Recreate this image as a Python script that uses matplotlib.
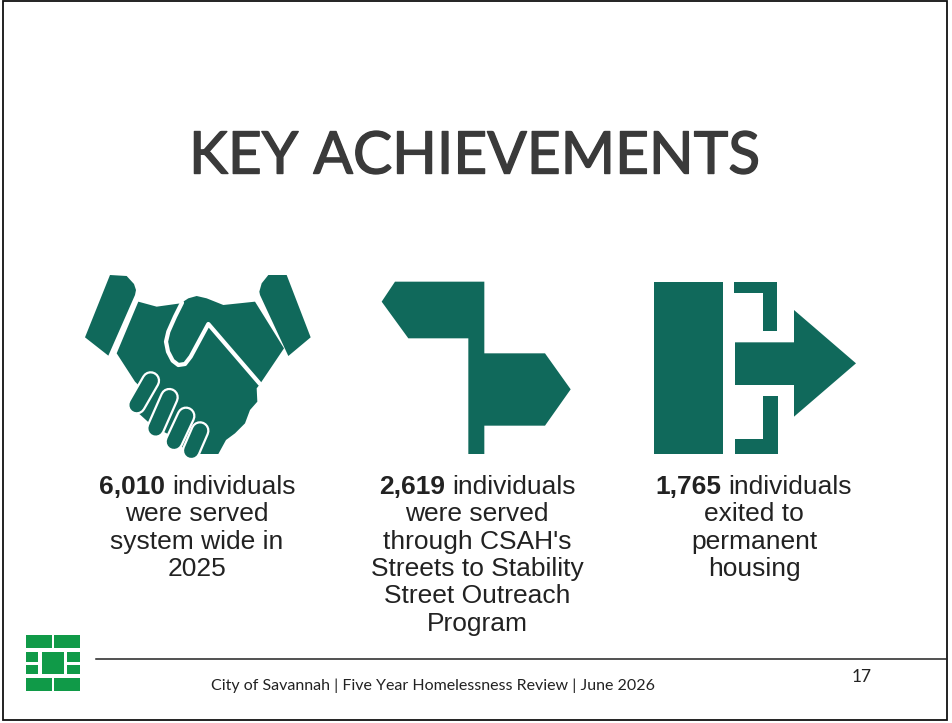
"""Key achievements slide, drawn in pixel coordinates on one full-figure axes."""

import matplotlib
matplotlib.use("Agg")
import matplotlib.pyplot as plt
import matplotlib.patheffects as pe
from matplotlib.patches import Polygon, Rectangle

TEAL = "#10695b"
GREEN = "#109a48"
TEXT = "#222222"

TITLE = "KEY ACHIEVEMENTS"
FOOTER = "City of Savannah | Five Year Homelessness Review | June 2026"
PAGE = "17"

counts = ["6,010", "2,619", "1,765"]
first_lines = [" individuals", " individuals", " individuals"]
other_lines = [
    ["were served", "system wide in", "2025"],
    ["were served", "through CSAH's", "Streets to Stability", "Street Outreach", "Program"],
    ["exited to", "permanent", "housing"],
]
column_x = [197, 477, 754]

fig = plt.figure(figsize=(9.52, 7.23), dpi=100)
ax = fig.add_axes([0, 0, 1, 1])
ax.set_xlim(0, 952)
ax.set_ylim(723, 0)
ax.axis("off")


def hand(points):
    """Zoom crop coordinates of the handshake to page pixels."""
    return [(60 + x / 3, 260 + y / 3) for x, y in points]


def icons(points):
    """Zoom crop coordinates of the other two icons to page pixels."""
    return [(360 + x / 3, 260 + y / 3) for x, y in points]


def stroke(points, color, px):
    xs, ys = zip(*hand(points))
    ax.plot(xs, ys, color=color, lw=px * 0.72, solid_capstyle="round",
            solid_joinstyle="round")


# frame and footer rule
ax.add_patch(Rectangle((3, 1), 944, 719, fill=False, ec="#111111", lw=1.3))
ax.plot([96, 947], [659, 659], color="#222222", lw=1.1)

# handshake
ax.add_patch(Polygon(hand([(150, 45), (200, 48), (222, 72), (228, 90), (225, 105), (145, 287), (75, 232)]),
                     fc=TEAL, ec="none"))
ax.add_patch(Polygon(hand([(598, 95), (605, 70), (625, 45), (680, 45), (752, 232), (685, 288), (600, 105)]),
                     fc=TEAL, ec="none"))
ax.add_patch(Polygon(hand([(235, 125), (290, 140), (362, 130), (385, 115), (410, 108), (440, 115),
                           (490, 135), (585, 125), (672, 265), (600, 372), (590, 385),
                           (592, 425), (570, 450), (555, 490), (525, 520), (498, 540),
                           (475, 582), (385, 582), (340, 530), (280, 500), (225, 450),
                           (235, 375), (225, 365), (170, 280)]),
                     fc=TEAL, ec="none"))
# thumb and palm outline
stroke([(366, 128), (345, 170), (325, 215), (318, 245), (324, 275), (338, 302), (355, 315),
        (375, 312), (392, 290), (445, 192), (600, 372)], "white", 4.2)
# fingers, white halo first and then the finger itself
fingers = [
    [(272, 362), (230, 435)],
    [(328, 412), (287, 505)],
    [(378, 468), (342, 545)],
    [(420, 512), (394, 572)],
]
for finger in fingers:
    stroke(finger, "white", 19)
for finger in fingers:
    stroke(finger, TEAL, 14.5)

# signpost
ax.add_patch(Polygon(icons([(105, 65), (373, 65), (373, 280), (555, 280), (632, 388),
                            (555, 497), (373, 497), (373, 582), (325, 582), (325, 235),
                            (145, 235), (65, 125)]), fc=TEAL, ec="none"))

# exit door
ax.add_patch(Polygon(icons([(883, 65), (1090, 65), (1090, 582), (883, 582)]), fc=TEAL, ec="none"))
ax.add_patch(Polygon(icons([(1122, 65), (1252, 65), (1252, 213), (1210, 213), (1210, 100),
                            (1122, 100)]), fc=TEAL, ec="none"))
ax.add_patch(Polygon(icons([(1210, 407), (1255, 407), (1255, 582), (1125, 582), (1125, 537),
                            (1210, 537)]), fc=TEAL, ec="none"))
ax.add_patch(Polygon(icons([(1125, 247), (1302, 247), (1302, 150), (1488, 310), (1302, 470),
                            (1302, 375), (1125, 375)]), fc=TEAL, ec="none"))

# logo bricks, x0 y0 x1 y1
bricks = [(77, 45, 155, 85), (163, 45, 240, 85), (77, 95, 115, 125), (77, 135, 115, 163),
          (125, 95, 192, 163), (202, 95, 240, 125), (202, 135, 240, 163),
          (77, 173, 155, 213), (163, 173, 240, 213)]
for x0, y0, x1, y1 in bricks:
    ax.add_patch(Rectangle((x0 / 3, 620 + y0 / 3), (x1 - x0) / 3, (y1 - y0) / 3,
                           fc=GREEN, ec="none"))

# title, the thin stroke thickens it to the weight of the original
title = ax.text(475, 157, TITLE, ha="center", va="center", fontsize=42.2, family="Lato",
                color="#3a3a3a")
title.set_path_effects([pe.withStroke(linewidth=1.0, foreground="#3a3a3a")])

# captions
renderer = fig.canvas.get_renderer()
body = dict(fontsize=19, family="Liberation Sans", color=TEXT, va="center")
line_y = 487
line_gap = 27.3
for cx, count, first, rest in zip(column_x, counts, first_lines, other_lines):
    bold = ax.text(0, line_y, count, weight="bold", ha="left", **body)
    regular = ax.text(0, line_y, first.strip(), ha="left", **body)
    bold_w = bold.get_window_extent(renderer).width
    regular_w = regular.get_window_extent(renderer).width
    space = 7.0
    left = cx - (bold_w + space + regular_w) / 2
    bold.set_x(left)
    regular.set_x(left + bold_w + space)
    for i, line in enumerate(rest):
        ax.text(cx, line_y + (i + 1) * line_gap, line, ha="center", **body)

# footer
ax.text(433, 686, FOOTER, ha="center", va="center", fontsize=11.55, family="Lato", color=TEXT)
ax.text(862, 677, PAGE, ha="center", va="center", fontsize=12.5, family="Lato", color=TEXT)

fig.savefig("out.png", dpi=100, facecolor="white")
